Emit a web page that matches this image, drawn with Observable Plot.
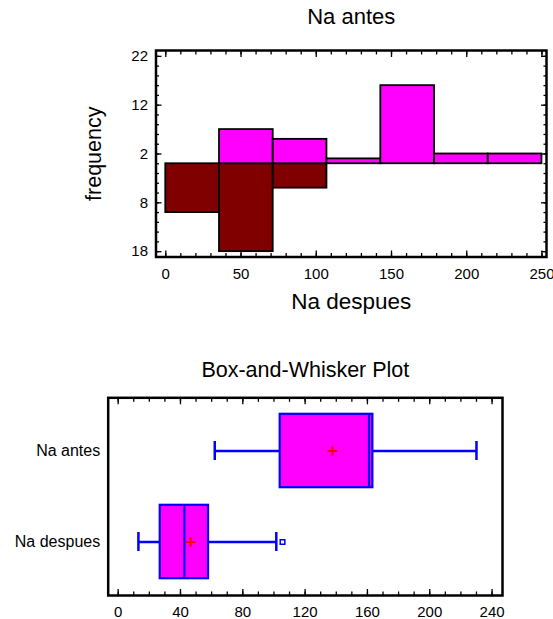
<!DOCTYPE html>
<html><head><meta charset="utf-8">
<script src="https://cdn.jsdelivr.net/npm/d3@7"></script>
<script src="https://cdn.jsdelivr.net/npm/@observablehq/plot@0.6"></script>
<style>
html,body{margin:0;padding:0;background:#fff;}
#chart{position:relative;width:553px;height:619px;font-family:"Liberation Sans",Arial,sans-serif;}
#chart svg{position:absolute;left:0;}
</style></head><body><div id="chart"></div>
<script>
// Histogram (back-to-back): Na antes above, Na despues below
const binStarts = [0, 35.7, 71.4, 107.1, 142.9, 178.6, 214.3];
const binEnds = [35.7, 71.4, 107.1, 142.9, 178.6, 214.3, 250];
const antesFreq = [0, 7, 5, 1, 16, 2, 2];
const despuesFreq = [10, 18, 5, 0, 0, 0, 0];
const histXTicks = [0, 50, 100, 150, 200, 250];
const histYTicks = [22, 12, 2, -8, -18];

// Box-and-whisker summary
const boxCats = ["Na antes", "Na despues"];
const boxMin = [62, 13];
const boxQ1 = [104, 27];
const boxMedian = [161, 42.5];
const boxQ3 = [163.5, 58];
const boxMax = [230, 101.5];
const boxMean = [137.5, 46.5];
const outlierCats = ["Na despues"];
const outlierValues = [105.5];
const boxXTicks = [0, 40, 80, 120, 160, 200, 240];

const FONT = '"Liberation Sans", Arial, sans-serif';
const MAGENTA = "#ff00ff", MAROON = "#800000", BLUE = "#0000ff", RED = "#ff0000";

const hist = binStarts.map((s, i) => ({x1: s, x2: binEnds[i], antes: antesFreq[i], despues: despuesFreq[i]}));

const tk = {label: null, fill: "none", stroke: "black", strokeWidth: 1.3};

const histPlot = Plot.plot({
  width: 553, height: 320,
  marginLeft: 155.5, marginRight: 7, marginTop: 50, marginBottom: 63.5,
  style: {fontFamily: FONT, background: "white", overflow: "visible"},
  x: {domain: [-6.5, 253]},
  y: {domain: [-19.1, 23.2]},
  marks: [
    Plot.rectY(hist.filter(d => d.despues > 0), {x1: "x1", x2: "x2", y1: 0, y2: d => -d.despues, fill: MAROON, stroke: "black", strokeWidth: 1.8}),
    Plot.rectY(hist.filter(d => d.antes > 0), {x1: "x1", x2: "x2", y1: 0, y2: "antes", fill: MAGENTA, stroke: "black", strokeWidth: 1.8}),
    Plot.axisX({...tk, anchor: "bottom", ticks: histXTicks, tickSize: -6}),
    Plot.axisX({...tk, anchor: "bottom", ticks: d3.range(0, 251, 10), tickSize: -3.5}),
    Plot.axisX({...tk, anchor: "top", ticks: histXTicks, tickSize: -6}),
    Plot.axisX({...tk, anchor: "top", ticks: d3.range(0, 251, 10), tickSize: -3.5}),
    Plot.axisY({...tk, anchor: "left", ticks: histYTicks, tickSize: -6}),
    Plot.axisY({...tk, anchor: "left", ticks: d3.range(-18, 23, 2), tickSize: -3.5}),
    Plot.axisY({...tk, anchor: "right", ticks: histYTicks, tickSize: -6}),
    Plot.axisY({...tk, anchor: "right", ticks: d3.range(-18, 23, 2), tickSize: -3.5}),
    Plot.axisX({anchor: "bottom", ticks: histXTicks, tickSize: 0, tickPadding: 11, fontSize: 15, fill: "black", label: null}),
    Plot.axisY({anchor: "left", ticks: histYTicks, tickSize: 0, tickPadding: 8, fontSize: 15, fill: "black", label: null, tickFormat: d => Math.abs(d)}),
    Plot.frame({stroke: "black", strokeWidth: 2.5}),
    Plot.text(["Na antes"], {frameAnchor: "top", dy: -34, fontSize: 22, fill: "black", lineAnchor: "middle"}),
    Plot.text(["Na despues"], {frameAnchor: "bottom", dy: 44.5, fontSize: 22.5, fill: "black", lineAnchor: "middle"}),
    Plot.text(["frequency"], {frameAnchor: "left", dx: -61.5, rotate: -90, fontSize: 21.5, fill: "black", lineAnchor: "middle", textAnchor: "middle"})
  ]
});
histPlot.style.top = "0px";

const boxRows = boxCats.map((c, i) => ({cat: c, min: boxMin[i], q1: boxQ1[i], median: boxMedian[i], q3: boxQ3[i], max: boxMax[i], mean: boxMean[i]}));
const caps = boxRows.flatMap(d => [{cat: d.cat, v: d.min}, {cat: d.cat, v: d.max}]);
const outliers = outlierCats.map((c, i) => ({cat: c, v: outlierValues[i]}));

const boxPlot = Plot.plot({
  width: 553, height: 279,
  marginLeft: 107.7, marginRight: 51, marginTop: 57.3, marginBottom: 24,
  style: {fontFamily: FONT, background: "white", overflow: "visible"},
  x: {domain: [-6.4, 246.7]},
  y: {type: "band", domain: boxCats, padding: 0.15},
  marks: [
    Plot.ruleY(boxRows, {y: "cat", x1: "min", x2: "max", stroke: BLUE, strokeWidth: 2.5}),
    Plot.barX(boxRows, {y: "cat", x1: "q1", x2: "q3", fill: MAGENTA, stroke: BLUE, strokeWidth: 2.2, insetTop: 1.8, insetBottom: 1.8}),
    Plot.tickX(boxRows, {y: "cat", x: "median", stroke: BLUE, strokeWidth: 2.2, insetTop: 1.8, insetBottom: 1.8}),
    Plot.tickX(caps, {y: "cat", x: "v", stroke: BLUE, strokeWidth: 2.5, insetTop: 29, insetBottom: 29}),
    Plot.dot(boxRows, {y: "cat", x: "mean", symbol: "plus", stroke: RED, strokeWidth: 2, r: 3.2}),
    Plot.dot(outliers, {y: "cat", x: "v", symbol: "square", stroke: BLUE, fill: "none", strokeWidth: 1.5, r: 2.6}),
    Plot.axisX({...tk, anchor: "bottom", ticks: boxXTicks, tickSize: -6}),
    Plot.axisX({...tk, anchor: "bottom", ticks: d3.range(0, 241, 10), tickSize: -3.5}),
    Plot.axisX({...tk, anchor: "top", ticks: boxXTicks, tickSize: -6}),
    Plot.axisX({...tk, anchor: "top", ticks: d3.range(0, 241, 10), tickSize: -3.5}),
    Plot.axisX({anchor: "bottom", ticks: boxXTicks, tickSize: 0, tickPadding: 11, fontSize: 15, fill: "black", label: null}),
    Plot.axisY({anchor: "left", tickSize: 0, tickPadding: 8, fontSize: 16, fill: "black", label: null}),
    Plot.frame({stroke: "black", strokeWidth: 2.5}),
    Plot.text(["Box-and-Whisker Plot"], {frameAnchor: "top", dy: -28, fontSize: 21.5, fill: "black", lineAnchor: "middle"})
  ]
});
boxPlot.style.top = "340px";

const root = document.getElementById("chart");
root.appendChild(histPlot);
root.appendChild(boxPlot);
</script>
</body></html>
